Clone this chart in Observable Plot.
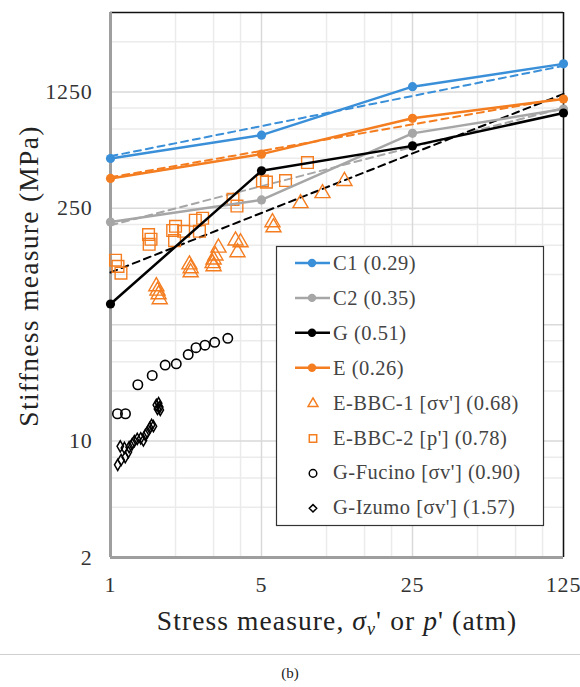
<!DOCTYPE html>
<html><head><meta charset="utf-8">
<script src="https://cdn.jsdelivr.net/npm/d3@7"></script>
<script src="https://cdn.jsdelivr.net/npm/@observablehq/plot@0.6"></script>
<style>
body{margin:0;background:#fff;}
#cap{border-top:1px solid #cfcfcf;width:580px;text-align:center;font-size:15px;line-height:16px;font-family:"Liberation Serif","DejaVu Serif",serif;color:#222;padding-top:10px;}
</style>
</head><body><div id="chart"></div><div id="cap">(b)</div>
<script>
// ---- ticks ----
const xTicks = [1, 5, 25, 125];
const yTicks = [2, 10, 50, 250, 1250];
const xMinor = [2, 3, 4, 10, 15, 20, 50, 75, 100];
const yMinor = [4, 6, 8, 20, 30, 40, 100, 150, 200, 500, 750, 1000, 2500];

// ---- main curves (stress 1, 5, 25, 125 atm) ----
const stress = [1, 5, 25, 125];
const c1 = [498, 688, 1345, 1843];
const c2 = [207, 281, 705, 987];
const gC = [66.6, 420, 593, 934];
const eC = [378, 529, 868, 1134];

// ---- power-law fits (dashed) ----
const fitX = [1, 125];
const c1Fit = [514, 1793];
const c2Fit = [198, 1001];
const gFit = [103, 1216];
const eFit = [384, 1150];

// ---- E-BBC-1 triangles ----
const bbc1X = [1.63, 1.65, 1.67, 1.69, 2.32, 2.35, 2.35, 3.16, 3.06, 3.0, 2.97, 3.0, 3.79, 4.0, 3.87, 5.62, 5.68, 7.58, 9.58, 12.1];
const bbc1Y = [85, 80, 76, 71, 115, 109, 103, 145, 130, 123, 117, 112, 160, 156, 136, 206, 192, 268, 308, 364];

// ---- E-BBC-2 squares ----
const bbc2X = [1.055, 1.083, 1.118, 1.50, 1.54, 1.51, 2.0, 1.94, 2.18, 1.98, 2.47, 2.67, 2.58, 3.69, 3.85, 5.05, 5.27, 6.46, 8.16];
const bbc2Y = [122, 112, 102, 174, 163, 152, 195, 184, 182, 160, 212, 218, 182, 283, 258, 365, 359, 367, 471];

// ---- G-Fucino circles ----
const fucX = [1.077, 1.173, 1.338, 1.56, 1.791, 2.016, 2.289, 2.488, 2.738, 3.036, 3.491];
const fucY = [14.6, 14.6, 21.8, 24.8, 28.6, 29.1, 33.1, 36.4, 37.7, 39.2, 41.4];

// ---- G-Izumo diamonds ----
const izuX = [1.08, 1.12, 1.17, 1.21, 1.11, 1.16, 1.22, 1.26, 1.29, 1.33, 1.38, 1.42, 1.45, 1.48, 1.52, 1.55, 1.58, 1.63, 1.67, 1.69, 1.70, 1.65];
const izuY = [7.2, 7.7, 8.0, 8.6, 9.3, 9.1, 9.2, 9.6, 10.0, 10.3, 10.4, 10.1, 10.9, 11.3, 12.0, 12.5, 12.3, 16.5, 16.9, 16.0, 15.4, 15.6];

// ---- legend ----
const legendNames = ["C1 (0.29)", "C2 (0.35)", "G (0.51)", "E (0.26)",
  "E-BBC-1 [σv'] (0.68)", "E-BBC-2 [p'] (0.78)", "G-Fucino [σv'] (0.90)", "G-Izumo [σv'] (1.57)"];

const BLUE = "#3a8fd9", GRAY = "#a6a6a6", BLACK = "#000", ORANGE = "#f47d20";
const FONT = "'Liberation Serif', 'DejaVu Serif', serif";

const pts = (xs, ys) => xs.map((x, i) => ({x, y: ys[i]}));

const curves = [
  {d: pts(stress, c1), f: pts(fitX, c1Fit), c: BLUE},
  {d: pts(stress, c2), f: pts(fitX, c2Fit), c: GRAY},
  {d: pts(stress, gC), f: pts(fitX, gFit), c: BLACK},
  {d: pts(stress, eC), f: pts(fitX, eFit), c: ORANGE}
];

const marks = [
  Plot.gridX(xMinor, {stroke: "#ebebeb", strokeOpacity: 1, strokeWidth: 1.5}),
  Plot.gridY(yMinor, {stroke: "#ebebeb", strokeOpacity: 1, strokeWidth: 1.5}),
  Plot.gridX(xTicks, {stroke: "#d9d9d9", strokeOpacity: 1, strokeWidth: 1.5}),
  Plot.gridY(yTicks, {stroke: "#d9d9d9", strokeOpacity: 1, strokeWidth: 1.5}),
  Plot.ruleY([3750], {stroke: "#111", strokeWidth: 1.5}),
  Plot.ruleX([125], {stroke: "#111", strokeWidth: 1.5}),
  Plot.ruleX([1], {stroke: "#9e9e9e", strokeWidth: 3}),
  Plot.ruleY([2], {stroke: "#9e9e9e", strokeWidth: 3}),
];
for (const s of curves) {
  marks.push(Plot.line(s.f, {x: "x", y: "y", stroke: s.c, strokeWidth: 2, strokeDasharray: "7,5"}));
}
marks.push(
  Plot.dot(pts(bbc1X, bbc1Y), {x: "x", y: "y", symbol: "triangle", r: 5.6, stroke: ORANGE, fill: "none", strokeWidth: 1.4}),
  Plot.dot(pts(bbc2X, bbc2Y), {x: "x", y: "y", symbol: "square", r: 6.6, stroke: ORANGE, fill: "none", strokeWidth: 1.4}),
  Plot.dot(pts(fucX, fucY), {x: "x", y: "y", symbol: "circle", r: 4.7, stroke: BLACK, fill: "none", strokeWidth: 1.6}),
  Plot.dot(pts(izuX, izuY), {x: "x", y: "y", symbol: "diamond", r: 3.4, stroke: BLACK, fill: "none", strokeWidth: 1.5})
);
for (const s of curves) {
  marks.push(Plot.line(s.d, {x: "x", y: "y", stroke: s.c, strokeWidth: 2.5}));
  marks.push(Plot.dot(s.d, {x: "x", y: "y", fill: s.c, r: 4.6}));
}
marks.push(
  Plot.axisX({ticks: xTicks, tickSize: 0, tickPadding: 19, fontSize: 22, tickFormat: d => String(d), label: null}),
  Plot.axisY({ticks: yTicks, tickSize: 0, tickPadding: 18, fontSize: 22, tickFormat: d => String(d), label: null})
);

const chart = Plot.plot({
  width: 580, height: 654,
  marginTop: 12, marginBottom: 97, marginLeft: 110, marginRight: 17,
  x: {type: "log", domain: [1, 125]},
  y: {type: "log", domain: [2, 3750]},
  style: {fontFamily: FONT, color: "#333", background: "#fff"},
  marks
});
document.getElementById("chart").appendChild(chart);

const svg = d3.select(chart);
svg.selectAll("g[aria-label='x-axis tick label'] text, g[aria-label='y-axis tick label'] text")
  .attr("letter-spacing", 0.8);

// ---- axis titles ----
const xl = svg.append("text").attr("x", 337).attr("y", 630).attr("text-anchor", "middle")
  .attr("font-size", 27.5).attr("letter-spacing", 1.1).attr("fill", "#222").attr("font-family", FONT);
xl.append("tspan").text("Stress measure, ");
xl.append("tspan").attr("font-style", "italic").text("σ");
xl.append("tspan").attr("font-size", 18).attr("dy", 5).attr("font-style", "italic").text("v");
xl.append("tspan").attr("dy", -5).text("' or ");
xl.append("tspan").attr("font-style", "italic").text("p");
xl.append("tspan").text("' (atm)");

svg.append("text").attr("transform", "translate(38,276) rotate(-90)").attr("text-anchor", "middle")
  .attr("font-size", 27.5).attr("letter-spacing", 1.3).attr("fill", "#222").attr("font-family", FONT)
  .text("Stiffness measure (MPa)");

// ---- legend ----
const lg = svg.append("g").attr("font-family", FONT).attr("text-anchor", "start");
lg.append("rect").attr("x", 276.5).attr("y", 246.5).attr("width", 267).attr("height", 279)
  .attr("fill", "#fff").attr("stroke", "#333").attr("stroke-width", 1.2);
const legendColors = [BLUE, GRAY, BLACK, ORANGE, ORANGE, ORANGE, BLACK, BLACK];
const legendSym = [null, null, null, null, d3.symbolTriangle2, d3.symbolSquare2, d3.symbolCircle, d3.symbolDiamond2];
const legendSize = [0, 0, 0, 0, 70, 70, 45, 35];
legendNames.forEach((name, i) => {
  const y = 263 + i * 34.9;
  if (i < 4) {
    lg.append("line").attr("x1", 295).attr("x2", 330).attr("y1", y).attr("y2", y)
      .attr("stroke", legendColors[i]).attr("stroke-width", 2.5);
    lg.append("circle").attr("cx", 312).attr("cy", y).attr("r", 4.2).attr("fill", legendColors[i]);
  } else {
    lg.append("path").attr("transform", `translate(313,${y + 1})`)
      .attr("d", d3.symbol(legendSym[i], legendSize[i])())
      .attr("fill", "none").attr("stroke", legendColors[i]).attr("stroke-width", 1.5);
  }
  lg.append("text").attr("x", 333).attr("y", y + 7).attr("text-anchor", "start")
    .attr("font-size", 20.5).attr("letter-spacing", 0.5).attr("fill", "#444").text(name);
});
</script></body></html>
